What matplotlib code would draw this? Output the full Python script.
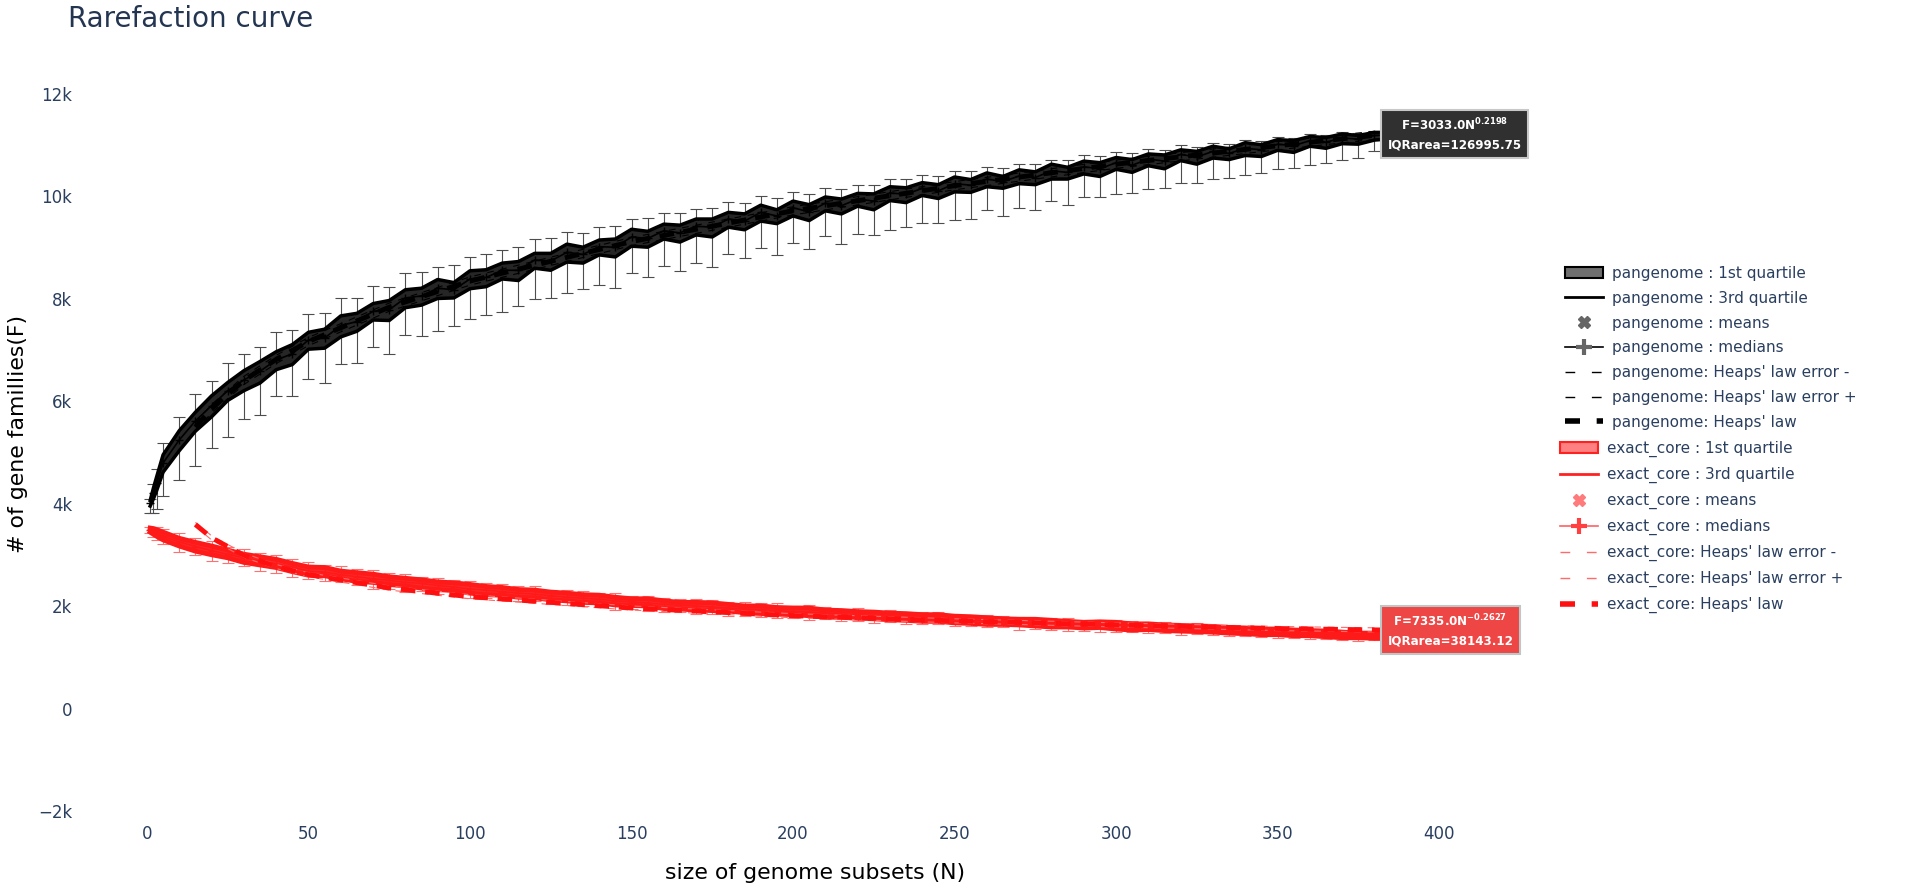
import matplotlib
matplotlib.use("Agg")
import matplotlib.pyplot as plt
from matplotlib.lines import Line2D
from matplotlib.patches import Patch
from matplotlib.ticker import FuncFormatter

n_subsets = [1, 2, 3] + list(range(5, 385, 5)) + [384]

# --- pangenome ---
pan_median = [
    4020, 4210, 4400, 4800, 5250, 5620, 5920, 6210, 6420, 6590,
    6810, 6930, 7200, 7240, 7480, 7560, 7760, 7790, 8020, 8060,
    8210, 8180, 8390, 8420, 8560, 8560, 8760, 8740, 8910, 8870,
    9020, 9010, 9210, 9180, 9330, 9290, 9420, 9400, 9560, 9520,
    9690, 9620, 9780, 9700, 9870, 9820, 9950, 9910, 10070, 10040,
    10160, 10110, 10250, 10220, 10340, 10290, 10400, 10370, 10500, 10470,
    10580, 10540, 10660, 10610, 10730, 10690, 10820, 10770, 10880, 10840,
    10940, 10910, 11020, 10990, 11090, 11060, 11140, 11120, 11190, 11200,
]
pan_q1_below = [
    60, 110, 140, 180, 210, 200, 220, 190, 210, 230,
    190, 210, 180, 200, 220, 190, 170, 210, 190, 180,
    200, 160, 190, 180, 170, 200, 160, 180, 190, 170,
    160, 190, 180, 170, 160, 180, 170, 190, 160, 170,
    170, 150, 160, 170, 150, 160, 140, 170, 150, 160,
    140, 150, 160, 140, 150, 130, 150, 140, 160, 130,
    140, 150, 130, 140, 130, 150, 120, 140, 130, 120,
    140, 130, 120, 130, 110, 120, 110, 100, 90, 80,
]
pan_q3_above = [
    50, 100, 130, 160, 180, 170, 190, 160, 180, 190,
    160, 180, 150, 170, 190, 160, 150, 180, 160, 150,
    170, 140, 160, 150, 140, 170, 130, 150, 160, 140,
    130, 160, 150, 140, 130, 150, 140, 160, 130, 140,
    140, 120, 130, 140, 120, 130, 110, 140, 120, 130,
    110, 120, 130, 110, 120, 100, 120, 110, 130, 100,
    110, 120, 100, 110, 100, 120, 90, 110, 100, 90,
    110, 100, 90, 100, 80, 90, 80, 70, 60, 50,
]
pan_err_minus = [
    200, 380, 500, 640, 780, 880, 820, 900, 760, 850,
    700, 820, 760, 880, 740, 800, 690, 860, 720, 780,
    830, 700, 780, 740, 810, 690, 760, 720, 800, 680,
    740, 790, 700, 760, 680, 750, 720, 780, 690, 730,
    700, 760, 680, 720, 650, 740, 690, 660, 720, 640,
    680, 620, 700, 650, 600, 670, 620, 640, 580, 630,
    600, 560, 620, 540, 590, 520, 560, 500, 540, 480,
    520, 460, 490, 430, 470, 400, 420, 360, 300, 250,
]
pan_err_plus = [
    80, 180, 280, 380, 450, 520, 480, 550, 500, 470,
    540, 460, 510, 480, 530, 450, 500, 440, 490, 460,
    420, 480, 430, 460, 400, 450, 410, 440, 390, 420,
    380, 420, 360, 400, 350, 390, 340, 370, 330, 360,
    320, 350, 300, 340, 290, 320, 280, 310, 270, 300,
    260, 290, 250, 280, 240, 270, 230, 260, 220, 250,
    220, 240, 200, 230, 190, 220, 180, 200, 170, 190,
    160, 180, 150, 160, 130, 140, 120, 110, 90, 70,
]

# --- exact core ---
core_median = [
    3490, 3460, 3430, 3370, 3260, 3170, 3090, 3020, 2950, 2890,
    2830, 2770, 2690, 2670, 2620, 2580, 2540, 2510, 2470, 2450,
    2410, 2380, 2340, 2320, 2290, 2260, 2240, 2210, 2180, 2160,
    2140, 2110, 2090, 2070, 2040, 2020, 2010, 1990, 1970, 1950,
    1940, 1920, 1900, 1890, 1870, 1850, 1840, 1820, 1810, 1790,
    1780, 1770, 1750, 1730, 1720, 1710, 1690, 1680, 1670, 1660,
    1640, 1640, 1620, 1610, 1600, 1590, 1570, 1570, 1550, 1540,
    1520, 1510, 1500, 1490, 1480, 1460, 1450, 1440, 1430, 1420,
]
core_q1_below = [
    40, 50, 60, 70, 80, 90, 80, 70, 90, 80,
    70, 90, 80, 70, 80, 90, 70, 80, 70, 90,
    80, 70, 80, 90, 70, 80, 70, 80, 70, 80,
    70, 80, 70, 60, 80, 70, 80, 70, 60, 70,
    80, 70, 60, 70, 80, 60, 70, 60, 70, 60,
    70, 60, 70, 60, 70, 60, 50, 60, 70, 60,
    60, 50, 60, 70, 50, 60, 50, 60, 50, 60,
    50, 60, 50, 60, 50, 50, 60, 50, 50, 40,
]
core_q3_above = [
    40, 60, 70, 80, 70, 80, 90, 80, 70, 80,
    90, 70, 80, 90, 70, 80, 90, 70, 80, 70,
    70, 80, 90, 70, 80, 70, 80, 70, 80, 70,
    80, 70, 60, 80, 70, 60, 70, 80, 70, 60,
    70, 60, 70, 80, 60, 70, 60, 70, 60, 70,
    60, 70, 60, 70, 60, 50, 60, 70, 60, 50,
    50, 60, 70, 50, 60, 50, 60, 50, 60, 50,
    60, 50, 60, 50, 50, 60, 50, 40, 50, 40,
]
core_err_minus = [
    60, 100, 130, 160, 190, 170, 200, 180, 160, 190,
    170, 190, 160, 180, 150, 170, 190, 160, 180, 150,
    170, 160, 180, 150, 170, 160, 140, 170, 150, 160,
    150, 170, 140, 160, 150, 130, 160, 140, 150, 130,
    150, 140, 130, 150, 120, 140, 130, 150, 120, 140,
    130, 120, 140, 110, 130, 120, 140, 110, 120, 130,
    110, 130, 120, 100, 120, 110, 130, 100, 110, 120,
    100, 110, 120, 100, 110, 90, 100, 110, 90, 80,
]
core_err_plus = [
    60, 90, 120, 150, 170, 160, 180, 150, 170, 160,
    180, 150, 170, 140, 160, 150, 170, 140, 160, 130,
    150, 140, 160, 130, 150, 140, 160, 120, 140, 150,
    130, 150, 120, 140, 130, 120, 140, 130, 110, 130,
    120, 140, 110, 130, 120, 110, 130, 100, 120, 110,
    110, 120, 100, 110, 120, 100, 110, 90, 100, 110,
    100, 90, 110, 100, 90, 100, 80, 100, 90, 100,
    90, 80, 100, 90, 80, 90, 80, 70, 80, 70,
]

# Heaps' law fits (F = k * N^gamma)
heaps_n = [15, 20, 30, 40, 50, 75, 100, 150, 200, 250, 300, 350, 384]
pan_heaps = [5500, 5860, 6410, 6820, 7170, 7840, 8350, 9120, 9720, 10210, 10630, 10990, 11220]
pan_heaps_lo = [5420, 5780, 6330, 6740, 7090, 7760, 8270, 9040, 9640, 10130, 10550, 10910, 11140]
pan_heaps_hi = [5580, 5940, 6490, 6900, 7250, 7920, 8430, 9200, 9800, 10290, 10710, 11070, 11300]
core_heaps = [3600, 3340, 3000, 2780, 2620, 2360, 2190, 1970, 1820, 1720, 1640, 1570, 1540]
core_heaps_lo = [3560, 3300, 2960, 2740, 2580, 2320, 2150, 1930, 1780, 1680, 1600, 1530, 1500]
core_heaps_hi = [3640, 3380, 3040, 2820, 2660, 2400, 2230, 2010, 1860, 1760, 1680, 1610, 1580]

pan_label = "F=3033.0N$^{\\mathbf{0.2198}}$\nIQRarea=126995.75"
core_label = "F=7335.0N$^{\\mathbf{-0.2627}}$\nIQRarea=38143.12"

TEXT_COLOR = "#2a3f5f"


def draw_partition(ax, med, q1_below, q3_above, err_minus, err_plus,
                   line_color, fill_color, err_color, lw_q):
    q1 = [m - d for m, d in zip(med, q1_below)]
    q3 = [m + d for m, d in zip(med, q3_above)]
    ax.errorbar(n_subsets, med, yerr=[err_minus, err_plus], fmt="none",
                ecolor=err_color, elinewidth=0.8, capsize=4.5, capthick=0.8, zorder=2)
    ax.fill_between(n_subsets, q1, q3, color=fill_color, lw=0, zorder=3)
    ax.plot(n_subsets, q1, color=line_color, lw=lw_q, zorder=3)
    ax.plot(n_subsets, q3, color=line_color, lw=lw_q, zorder=3)
    ax.plot(n_subsets, med, color=line_color, lw=1.2, marker="+", ms=6, zorder=4)


fig = plt.figure(figsize=(19.07, 8.91), dpi=100)
ax = fig.add_axes([0.05165, 0.0835, 0.7538, 0.8513])

draw_partition(ax, pan_median, pan_q1_below, pan_q3_above, pan_err_minus, pan_err_plus,
               "black", "#262626", "#4d4d4d", 2.5)
draw_partition(ax, core_median, core_q1_below, core_q3_above, core_err_minus, core_err_plus,
               "#ff1a1a", "#ff2a2a", "#ff7070", 3.5)

# Heaps' law and its error bounds
ax.plot(heaps_n, pan_heaps_lo, color="black", lw=0.8, dashes=(6, 6), zorder=5)
ax.plot(heaps_n, pan_heaps_hi, color="black", lw=0.8, dashes=(6, 6), zorder=5)
ax.plot(heaps_n, pan_heaps, color="black", lw=3.5, dashes=(3, 2), zorder=5)
ax.plot(heaps_n, core_heaps_lo, color="#ff6a6a", lw=0.8, dashes=(6, 6), zorder=5)
ax.plot(heaps_n, core_heaps_hi, color="#ff6a6a", lw=0.8, dashes=(6, 6), zorder=5)
ax.plot(heaps_n, core_heaps, color="#ff1010", lw=3.5, dashes=(3, 2), zorder=5)

# fit annotations at the end of the curves
ax.text(heaps_n[-1], pan_heaps[-1], pan_label, ha="left", va="center", multialignment="center",
        color="white", fontsize=8.6, fontweight="bold", linespacing=1.5, zorder=6,
        bbox=dict(boxstyle="square,pad=0.55", facecolor="#303030", edgecolor="#c8c8c8", lw=1.5))
ax.text(heaps_n[-1], core_heaps[-1], core_label, ha="left", va="center", multialignment="center",
        color="white", fontsize=8.6, fontweight="bold", linespacing=1.5, zorder=6,
        bbox=dict(boxstyle="square,pad=0.55", facecolor="#ee4545", edgecolor="#bcc8c8", lw=1.5))

ax.set_xlim(-15, 430)
ax.set_ylim(-2100, 12700)
ax.set_xticks(range(0, 401, 50))
ax.set_yticks(range(-2000, 12001, 2000))
ax.yaxis.set_major_formatter(FuncFormatter(
    lambda v, _: "0" if v == 0 else ("\u2212" if v < 0 else "") + f"{abs(int(v)) // 1000}k"))
ax.tick_params(axis="both", length=0, labelsize=12, labelcolor=TEXT_COLOR)
ax.tick_params(axis="y", pad=19)
ax.tick_params(axis="x", pad=6)
for s in ax.spines.values():
    s.set_visible(False)

fig.text(68 / 1907, 1 - 27 / 891, "Rarefaction curve", fontsize=20, color="#243552", va="baseline")
fig.text(18 / 1907, 1 - 434 / 891, "# of gene famillies(F)", rotation=90,
         ha="center", va="center", fontsize=15.8, color="black")
fig.text(815 / 1907, 1 - 873 / 891, "size of genome subsets (N)",
         ha="center", va="center", fontsize=15.8, color="black")

# legend, one block per partition
pan_handles = [
    Patch(facecolor="#6e6e6e", edgecolor="black", lw=1.5),
    Line2D([], [], color="black", lw=2),
    Line2D([], [], ls="none", marker="X", color="#666666", ms=8),
    Line2D([], [], color="black", lw=1.2, marker="+", ms=11, mew=3, mec="#666666"),
    Line2D([], [], color="black", lw=1, dashes=(7, 12)),
    Line2D([], [], color="black", lw=1, dashes=(7, 12)),
    Line2D([], [], color="black", lw=4, dashes=(2.7, 3)),
]
pan_names = ["pangenome : 1st quartile", "pangenome : 3rd quartile", "pangenome : means",
             "pangenome : medians", "pangenome: Heaps' law error -",
             "pangenome: Heaps' law error +", "pangenome: Heaps' law"]
core_handles = [
    Patch(facecolor="#ff8080", edgecolor="#ff2020", lw=1.5),
    Line2D([], [], color="#ff2020", lw=2),
    Line2D([], [], ls="none", marker="X", color="#ff7a7a", ms=8),
    Line2D([], [], color="#ff6060", lw=1.2, marker="+", ms=11, mew=3, mec="#ff4040"),
    Line2D([], [], color="#ff6a6a", lw=1, dashes=(7, 12)),
    Line2D([], [], color="#ff6a6a", lw=1, dashes=(7, 12)),
    Line2D([], [], color="#ff1010", lw=4, dashes=(2.7, 3)),
]
core_names = ["exact_core : 1st quartile", "exact_core : 3rd quartile", "exact_core : means",
              "exact_core : medians", "exact_core: Heaps' law error -",
              "exact_core: Heaps' law error +", "exact_core: Heaps' law"]

leg_kw = dict(loc="upper left", frameon=False, borderpad=0, borderaxespad=0,
              handlelength=2.5, handletextpad=0.6, labelspacing=0.64,
              fontsize=11, labelcolor=TEXT_COLOR)
fig.legend(pan_handles, pan_names, bbox_to_anchor=(1565 / 1907, 1 - 266 / 891), **leg_kw)
fig.legend(core_handles, core_names, bbox_to_anchor=(1560 / 1907, 1 - 441 / 891), **leg_kw)

fig.savefig("out.png", dpi=100)
